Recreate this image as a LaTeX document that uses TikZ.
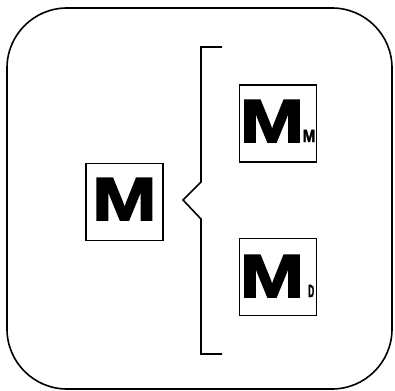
\documentclass[tikz,border=0pt]{standalone}
\usepackage{fontspec}
\newfontfamily\heavy{Liberation Sans Bold}[FakeBold=2.5]
\begin{document}
\begin{tikzpicture}[x=1pt,y=-1pt,line width=1.6pt,
  box/.style={draw,minimum width=77pt,minimum height=77pt,inner sep=0pt},
  bigm/.style={inner sep=0pt,anchor=base west,font=\heavy\fontsize{46}{46}\selectfont},
  subl/.style={inner sep=0pt,anchor=base west,font=\heavy\fontsize{12.5}{12.5}\selectfont}]
\useasboundingbox (0,0) rectangle (395,390);
\draw[rounded corners=60pt] (7,8) rectangle (392,389);
\node[box] (b0) at (124.5,202) {};
\node[box] (b1) at (278,123.5) {};
\node[box] (b2) at (278,277) {};
\node[bigm] (m0) at (91.5,220) {\scalebox{1.68}[1.32]{M}};
\node[bigm] (m1) at (239,142) {\scalebox{1.68}[1.32]{M}};
\node[subl] (s1) at (302,142) {\scalebox{1.2}[1.4]{M}};
\node[bigm] (m2) at (239,297) {\scalebox{1.68}[1.32]{M}};
\node[subl] (s2) at (307.5,297) {\scalebox{0.65}[1.4]{D}};
\coordinate (bt) at (222,47);
\coordinate (bb) at (222,354);
\draw (bt) -- (201,47) -- (201,182) -- (183,200) -- (201,219) -- (201,354) -- (bb);
\end{tikzpicture}
\end{document}
